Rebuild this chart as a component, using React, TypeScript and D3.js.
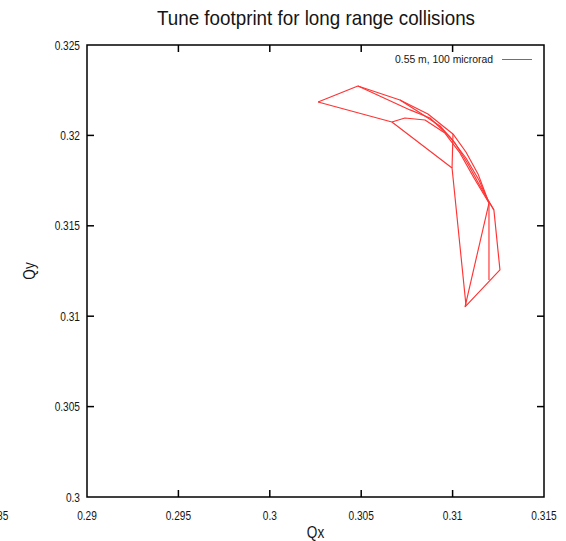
import React from "react";
import * as d3 from "d3";

// Tune-space footprint mesh: each path is a polyline of (Qx, Qy) tunes.
const outerArc: [number, number][] = [
  [0.30264, 0.32185], [0.30482, 0.32273], [0.30712, 0.32196], [0.30865, 0.32118], [0.30947, 0.32052],
  [0.31002, 0.32008], [0.31073, 0.31908], [0.31139, 0.31787], [0.31193, 0.31643], [0.31226, 0.31587],
  [0.31259, 0.31256], [0.31068, 0.31051],
];
const secondArc: [number, number][] = [
  [0.30482, 0.32273], [0.30767, 0.32141], [0.30876, 0.32096], [0.30986, 0.31991], [0.31073, 0.31875],
  [0.31144, 0.31753], [0.31199, 0.31626], [0.31199, 0.312],
];
const thirdArc: [number, number][] = [
  [0.30712, 0.32196], [0.30832, 0.32118], [0.30931, 0.32052], [0.31013, 0.31958], [0.31084, 0.31842],
  [0.3115, 0.3172], [0.31226, 0.31587],
];
const fourthArc: [number, number][] = [
  [0.30668, 0.32074], [0.30739, 0.32096], [0.30849, 0.32085], [0.30958, 0.32013], [0.3104, 0.31903],
  [0.31117, 0.31764], [0.31199, 0.31626],
];
const innerEdge: [number, number][] = [
  [0.30264, 0.32185], [0.30668, 0.32074], [0.30997, 0.3182], [0.31073, 0.31062],
];
const crossLinks: [number, number][][] = [
  [[0.31002, 0.32008], [0.30997, 0.3182]],
  [[0.31068, 0.31051], [0.31199, 0.31626]],
];
const footprintPaths = [outerArc, secondArc, thirdArc, fourthArc, innerEdge, ...crossLinks];

const xTicks = [0.285, 0.29, 0.295, 0.3, 0.305, 0.31, 0.315];
const yTicks = [0.3, 0.305, 0.31, 0.315, 0.32, 0.325];
const xTickLabels = ["0.285", "0.29", "0.295", "0.3", "0.305", "0.31", "0.315"];
const yTickLabels = ["0.3", "0.305", "0.31", "0.315", "0.32", "0.325"];

const titleText = "Tune footprint for long range collisions";
const legendLabel = "0.55 m, 100 microrad";

const W = 566;
const H = 541;
const left = 87;
const right = 544;
const top = 45;
const bottom = 497;
const tickLen = 7;
const font = "'Liberation Sans', Arial, Helvetica, sans-serif";
const ink = "#151515";
const red = "#ff3333";

// Horizontally condensed text, anchored at (x, y).
function NarrowText({
  x,
  y,
  size,
  anchor,
  squeeze = 0.78,
  children,
}: {
  x: number;
  y: number;
  size: number;
  anchor: "start" | "middle" | "end";
  squeeze?: number;
  children: React.ReactNode;
}) {
  return (
    <text
      transform={`translate(${x},${y}) scale(${squeeze},1)`}
      fontSize={size}
      textAnchor={anchor}
      fill={ink}
    >
      {children}
    </text>
  );
}

export default function App() {
  const x = d3.scaleLinear().domain([0.29, 0.315]).range([left, right]);
  const y = d3.scaleLinear().domain([0.3, 0.325]).range([bottom, top]);
  const line = d3
    .line<[number, number]>()
    .x((d) => x(d[0]))
    .y((d) => y(d[1]));

  return (
    <svg
      width={W}
      height={H}
      style={{ position: "absolute", left: 0, top: 0, background: "#fff" }}
      fontFamily={font}
    >
      <rect x={0} y={0} width={W} height={H} fill="#fff" />
      <text x={316} y={25} fontSize={21} textAnchor="middle" fill={ink} textLength={318} lengthAdjust="spacingAndGlyphs">
        {titleText}
      </text>

      {/* footprint mesh */}
      <g fill="none" stroke={red} strokeWidth={1.15} strokeLinejoin="round">
        {footprintPaths.map((p, i) => (
          <path key={i} d={line(p) ?? ""} />
        ))}
      </g>

      {/* frame */}
      <rect x={left} y={top} width={right - left} height={bottom - top} fill="none" stroke="#000" strokeWidth={1.5} />

      {/* x ticks */}
      {xTicks.map((t, i) => {
        const px = x(t);
        return (
          <g key={"x" + i}>
            {t > 0.29 && t < 0.315 && (
              <>
                <line x1={px} x2={px} y1={bottom} y2={bottom - tickLen} stroke="#000" strokeWidth={1.5} />
                <line x1={px} x2={px} y1={top} y2={top + tickLen} stroke="#000" strokeWidth={1.5} />
              </>
            )}
            <NarrowText x={px} y={520} size={13} anchor="middle">
              {xTickLabels[i]}
            </NarrowText>
          </g>
        );
      })}

      {/* y ticks */}
      {yTicks.map((t, i) => {
        const py = y(t);
        return (
          <g key={"y" + i}>
            {t > 0.3 && t < 0.325 && (
              <>
                <line x1={left} x2={left + tickLen} y1={py} y2={py} stroke="#000" strokeWidth={1.5} />
                <line x1={right} x2={right - tickLen} y1={py} y2={py} stroke="#000" strokeWidth={1.5} />
              </>
            )}
            <NarrowText x={80} y={py + 4.5} size={13} anchor="end">
              {yTickLabels[i]}
            </NarrowText>
          </g>
        );
      })}

      {/* axis titles */}
      <NarrowText x={(left + right) / 2} y={538} size={16} anchor="middle" squeeze={0.85}>
        Qx
      </NarrowText>
      <text transform={`translate(35, ${271}) rotate(-90) scale(0.85,1)`} fontSize={16} textAnchor="middle" fill={ink}>
        Qy
      </text>

      {/* legend */}
      <text x={493} y={63} fontSize={11} textAnchor="end" fill={ink} textLength={98} lengthAdjust="spacingAndGlyphs">
        {legendLabel}
      </text>
      <line x1={502} x2={532} y1={59.5} y2={59.5} stroke={red} strokeWidth={1} />
    </svg>
  );
}
